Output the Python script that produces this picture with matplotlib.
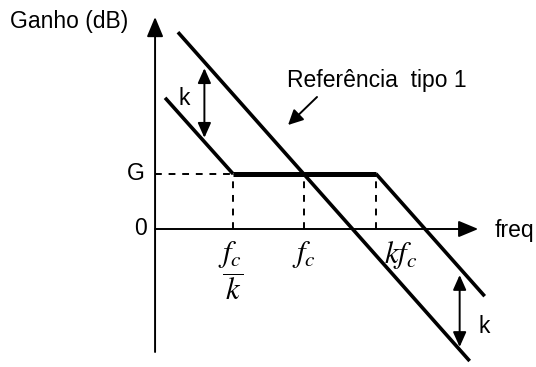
import matplotlib
matplotlib.use("Agg")
import matplotlib.pyplot as plt

plt.rcParams['mathtext.fontset'] = 'stix'
plt.rcParams['font.family'] = ['Liberation Sans', 'DejaVu Sans']

# Log-frequency positions (base k): fc/k, fc, k*fc
freq_pos = [1.0, 2.0, 3.0]
freq_labels = [r'$\dfrac{f_c}{k}$', r'$f_c$', r'$kf_c$']

# Gain levels (in units of 20*log10(k) dB)
G = 0.69
zero = 0.0

# Compensated response: -1 slope, flat at G between fc/k and k*fc, -1 slope again
comp_x = [0.05, 1.0, 3.0, 4.52]
comp_y = [1.64, 0.69, 0.69, -0.84]

# Type-1 reference line through (fc, G)
ref_x = [0.23, 4.31]
ref_y = [2.46, -1.65]

# Vertical "k" spacing markers between the parallel asymptotes
k_x = [0.60, 4.17]
k_hi = [2.01, -0.575]
k_lo = [1.14, -1.475]

W, H = 536, 367
fig = plt.figure(figsize=(W / 100, H / 100), dpi=100)
ax = fig.add_axes([0, 0, 1, 1])
ax.set_xlim(-2.2587, 5.2378)
ax.set_ylim(-1.725, 2.8625)
ax.axis('off')

x_origin = -0.09
y_bottom = -1.5375
y_top = 2.65
x_right = 4.43

# Axes with arrowheads
axis_arrow = dict(arrowstyle='-|>,head_length=1.2,head_width=0.5', color='black',
                  lw=1.4, shrinkA=0, shrinkB=0, mutation_scale=10)
ax.annotate('', xy=(x_origin, y_top), xytext=(x_origin, y_bottom), arrowprops=axis_arrow)
ax.annotate('', xy=(x_right, zero), xytext=(x_origin, zero), arrowprops=axis_arrow)

# Dashed guides
ax.plot([x_origin, freq_pos[0]], [G, G], color='black', lw=1.4, ls=(0, (3.5, 3.5)))
for fp in freq_pos:
    ax.plot([fp, fp], [zero, G], color='black', lw=1.4, ls=(0, (3.5, 3.5)))

# Reference line
ax.plot(ref_x, ref_y, color='black', lw=2.6, solid_capstyle='butt')
# Compensated response
ax.plot(comp_x[:2], comp_y[:2], color='black', lw=2.6, solid_capstyle='butt')
ax.plot(comp_x[1:3], comp_y[1:3], color='black', lw=3.6, solid_capstyle='butt')
ax.plot(comp_x[2:], comp_y[2:], color='black', lw=2.6, solid_capstyle='butt')

# k spacing arrows
k_arrow = dict(arrowstyle='<|-|>,head_length=0.9,head_width=0.4', color='black',
               lw=1.4, shrinkA=0, shrinkB=0, mutation_scale=10)
for xx, y1, y2 in zip(k_x, k_hi, k_lo):
    ax.annotate('', xy=(xx, y1), xytext=(xx, y2), arrowprops=k_arrow)

fs = 16.5
ax.text(0.231, 1.55, 'k', fontsize=fs, ha='left', va='baseline')
ax.text(4.427, -1.30, 'k', fontsize=fs, ha='left', va='baseline')

# Labels
ax.text(-2.119, 2.5125, 'Ganho (dB)', fontsize=fs, ha='left', va='baseline')
ax.text(4.664, -0.10, 'freq', fontsize=fs, ha='left', va='baseline')
ax.text(-0.231, G - 0.0775, 'G', fontsize=fs, ha='right', va='baseline')
ax.text(-0.203, -0.075, '0', fontsize=fs, ha='right', va='baseline')

ax.text(1.755, 1.775, 'Referência  tipo 1', fontsize=fs, ha='left', va='baseline')
ax.annotate('', xy=(1.77, 1.30), xytext=(2.175, 1.65),
            arrowprops=dict(arrowstyle='-|>,head_length=0.9,head_width=0.45', color='black',
                            lw=1.4, shrinkA=0, shrinkB=0, mutation_scale=10))

# Frequency tick labels
label_x = [0.97, 2.0, 3.34]
for lx, lab in zip(label_x, freq_labels):
    ax.text(lx, -0.13, lab, fontsize=22, ha='center', va='top')

fig.savefig('out.png', dpi=100)
